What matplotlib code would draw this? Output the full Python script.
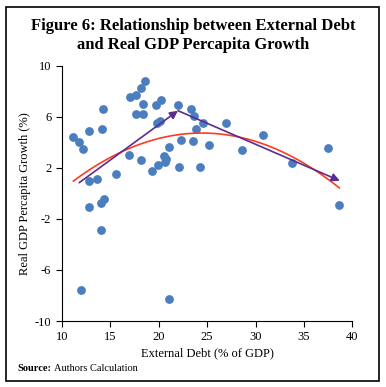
import numpy as np
import matplotlib.pyplot as plt
from matplotlib.patches import Rectangle

# debt (% of GDP) vs real GDP per capita growth (%)
debt = [11.2, 11.8, 12.2, 12.85, 12.85, 13.6, 12.85, 14.3, 14.2, 14.0, 14.4, 14.0,
        15.6, 16.9, 17.05, 17.67, 18.2, 18.56, 17.67, 18.36, 18.4, 18.2, 19.3, 19.7,
        20.2, 19.8, 20.15, 19.94, 20.56, 20.76, 20.7, 21.04, 22.07, 22.0, 22.35, 23.3,
        23.7, 23.86, 23.5, 24.55, 24.27, 25.17, 26.96, 30.74, 28.6, 33.77, 37.48, 38.65,
        12.0, 21.04]
growth = [4.39, 4.05, 3.45, 4.91, 0.99, 1.15, -1.04, 6.61, 5.07, -0.73, -0.46, -2.87,
          1.52, 3.03, 7.57, 7.68, 8.25, 8.78, 6.22, 6.22, 7.0, 2.62, 1.73, 6.9,
          7.31, 5.54, 5.64, 2.25, 2.93, 2.67, 2.46, 3.66, 2.04, 6.9, 4.18, 6.63,
          6.06, 5.02, 4.13, 5.49, 2.09, 3.77, 5.49, 4.55, 3.4, 2.4, 3.56, -0.93,
          -7.54, -8.27]

# hand-drawn arrows on the original chart
arrow_start = (11.8, 0.84)
arrow_peak = (22.0, 6.48)
arrow_end = (38.7, 0.99)

xticks = [10, 15, 20, 25, 30, 35, 40]
yticks = [-10, -6, -2, 2, 6, 10]

plt.rcParams['font.family'] = ['Liberation Serif', 'DejaVu Serif']
plt.rcParams['axes.unicode_minus'] = False

fig = plt.figure(figsize=(3.86, 3.87), dpi=100)
ax = fig.add_axes([0.160, 0.1705, 0.753, 0.6595])

ax.scatter(debt, growth, s=40, color='#4a7ebf', zorder=3, linewidths=0)

# quadratic trend line
coef = np.polyfit(debt, growth, 2)
xs = np.linspace(min(debt), max(debt), 200)
ax.plot(xs, np.polyval(coef, xs), color='#ff3b1f', lw=1.2, zorder=4)

purple = '#5a2d91'
arr = dict(arrowstyle='-|>', color=purple, lw=1.2, mutation_scale=12, shrinkA=0, shrinkB=0)
ax.annotate('', xy=arrow_peak, xytext=arrow_start, arrowprops=arr, zorder=5)
ax.annotate('', xy=arrow_end, xytext=arrow_peak, arrowprops=arr, zorder=5)

ax.set_xlim(10, 40)
ax.set_ylim(-10, 10)
ax.set_xticks(xticks)
ax.set_yticks(yticks)
ax.spines['top'].set_visible(False)
ax.spines['right'].set_visible(False)
ax.tick_params(direction='out', length=4, width=0.8, labelsize=9)
ax.set_xlabel('External Debt (% of GDP)', fontsize=9, labelpad=3)
ax.set_ylabel('Real GDP Percapita Growth (%)', fontsize=9, labelpad=3)

fig.text(0.5, 0.908, 'Figure 6: Relationship between External Debt\nand Real GDP Percapita Growth',
         ha='center', va='center', fontsize=12, fontweight='bold', linespacing=1.2)
src = fig.text(0.045, 0.047, 'Source:', fontsize=7.5, fontweight='bold', va='center')
ax.annotate('Authors Calculation', xy=(1, 0.5), xycoords=src, xytext=(2, 0),
            textcoords='offset points', fontsize=7.5, va='center', annotation_clip=False)

# frame round the whole figure
fig.patches.append(Rectangle((6 / 386, 1 - 381 / 387), 373 / 386, 374 / 387,
                             transform=fig.transFigure, fill=False, lw=1.2, color='black'))

fig.savefig('out.png', dpi=100)
